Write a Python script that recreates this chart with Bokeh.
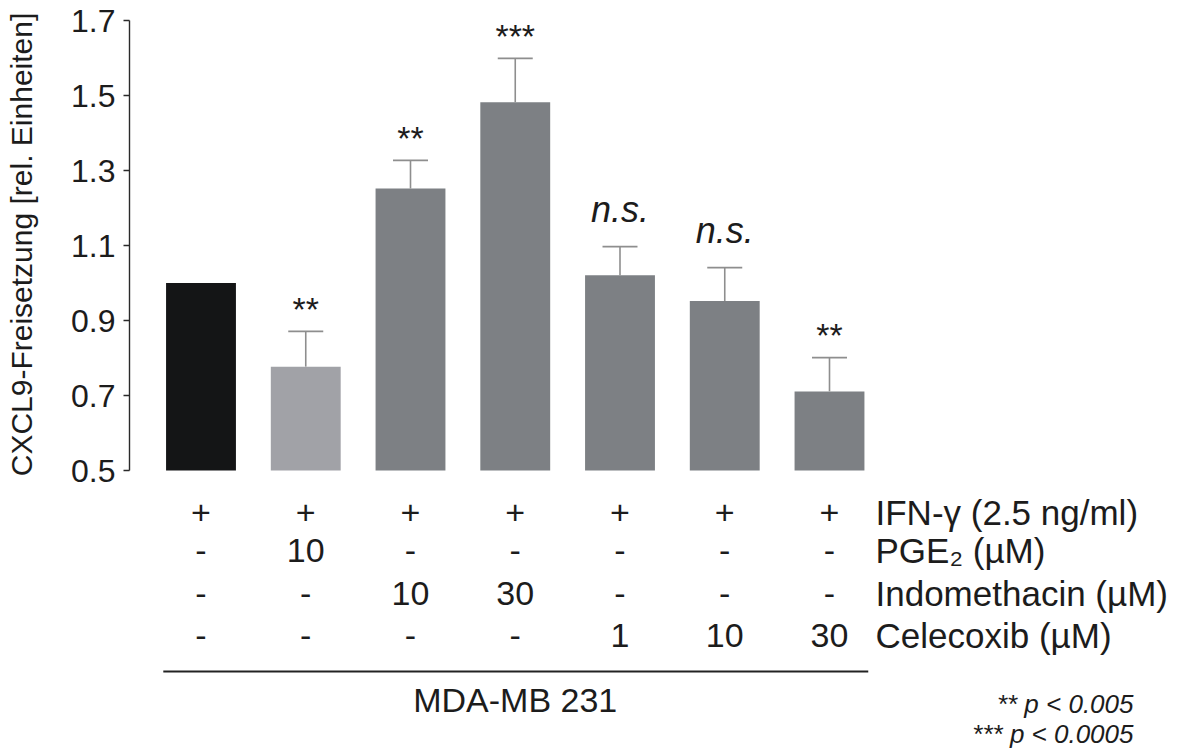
from bokeh.plotting import figure
from bokeh.layouts import column
from bokeh.models import Range1d, FixedTicker, ColumnDataSource
from bokeh.core.properties import value
from bokeh.embed import file_html
from bokeh.resources import INLINE

# ---------------- data ----------------
conditions = ["ctrl", "PGE2 10", "Indo 10", "Indo 30", "Cele 1", "Cele 10", "Cele 30"]
means = [1.000, 0.777, 1.252, 1.482, 1.021, 0.952, 0.711]
err_top = [1.000, 0.871, 1.327, 1.599, 1.097, 1.041, 0.801]
bar_colors = ["#141516", "#a1a2a7", "#7d8084", "#7d8084", "#7d8084", "#7d8084", "#7d8084"]
significance = ["", "**", "**", "***", "n.s.", "n.s.", "**"]

row_labels = ["IFN-γ (2.5 ng/ml)", "PGE₂ (µM)", "Indomethacin (µM)", "Celecoxib (µM)"]
ifn_row = ["+", "+", "+", "+", "+", "+", "+"]
pge_row = ["-", "10", "-", "-", "-", "-", "-"]
indo_row = ["-", "-", "10", "30", "-", "-", "-"]
cele_row = ["-", "-", "-", "-", "1", "10", "30"]
rows = [ifn_row, pge_row, indo_row, cele_row]

y_ticks = [0.5, 0.7, 0.9, 1.1, 1.3, 1.5, 1.7]
y_title = "CXCL9-Freisetzung [rel. Einheiten]"
group_label = "MDA-MB 231"
p_notes = ["** p < 0.005", "*** p < 0.0005"]

# ---------------- layout helpers ----------------
W, H = 1187, 749
TOP_H = 488                       # height of the chart part
FRAME_LEFT = 129
X0_PX, DX_PX = 200.5, 104.75      # centre of first bar, bar pitch
Y_BASE_PX, PX_PER_UNIT = 470, 375  # pixel row of 0.5, pixels per unit
BL = 0.37                          # baseline correction (em)


def px2x(px):
    return (px - X0_PX) / DX_PX


def py2y(py):
    return 0.5 + (Y_BASE_PX - py) / PX_PER_UNIT


FONT = value("Liberation Sans")
INK = "#1c1c1c"

p = figure(width=W, height=TOP_H, output_backend="svg", toolbar_location=None,
           x_range=Range1d(px2x(FRAME_LEFT), px2x(W)),
           y_range=Range1d(py2y(TOP_H), py2y(0)),
           x_axis_location=None, y_axis_location="left",
           min_border=0, min_border_left=FRAME_LEFT)
p.grid.visible = False
p.outline_line_color = None

idx = list(range(len(conditions)))

# bars
bars = ColumnDataSource(dict(x=idx, top=means, color=bar_colors))
p.vbar(x="x", top="top", bottom=0.5, width=0.667, fill_color="color",
       line_color=None, source=bars)

# error bars (upper only)
err_idx = [i for i in idx if err_top[i] > means[i]]
p.segment(x0=[idx[i] for i in err_idx], y0=[means[i] for i in err_idx],
          x1=[idx[i] for i in err_idx], y1=[err_top[i] for i in err_idx],
          line_color="#8e8e8e", line_width=1.6)
p.segment(x0=[idx[i] - 0.167 for i in err_idx], y0=[err_top[i] for i in err_idx],
          x1=[idx[i] + 0.167 for i in err_idx], y1=[err_top[i] for i in err_idx],
          line_color="#8e8e8e", line_width=1.6)

# significance marks
sig_x, sig_y, sig_t, sig_style, sig_size, sig_off = [], [], [], [], [], []
for i in idx:
    if significance[i]:
        ns = significance[i].startswith("n")
        size = 36 if ns else 34
        sig_x.append(i)
        sig_y.append(err_top[i])
        sig_t.append(significance[i])
        sig_style.append("italic" if ns else "normal")
        sig_size.append(f"{size}px")
        sig_off.append((-24 if ns else -10) - BL * size)
p.text(x="x", y="y", text="t", source=ColumnDataSource(dict(
    x=sig_x, y=sig_y, t=sig_t, st=sig_style, sz=sig_size, off=sig_off)),
    text_font=FONT, text_font_style="st", text_font_size="sz", y_offset="off",
    text_align="center", text_baseline="alphabetic", text_color=INK)

# y axis
ax = p.yaxis[0]
ax.bounds = (0.5, 1.7)
ax.ticker = FixedTicker(ticks=y_ticks, minor_ticks=[])
ax.major_tick_out = 6
ax.major_tick_in = 0
ax.minor_tick_line_color = None
ax.axis_line_color = "#2a2a2a"
ax.axis_line_width = 1.4
ax.major_tick_line_color = "#2a2a2a"
ax.major_tick_line_width = 1.4
ax.major_label_text_font = "Liberation Sans"
ax.major_label_text_font_size = "32px"
ax.major_label_text_color = INK
ax.major_label_standoff = 8
ax.axis_label = y_title
ax.axis_label_text_font = "Liberation Sans"
ax.axis_label_text_font_size = "30px"
ax.axis_label_text_font_style = "normal"
ax.axis_label_text_color = INK
ax.axis_label_standoff = 30

# ---------------- treatment table (second figure, y in pixel rows) ----------------
q = figure(width=W, height=H - TOP_H, output_backend="svg", toolbar_location=None,
           x_range=Range1d(px2x(FRAME_LEFT), px2x(W)), y_range=Range1d(H, TOP_H),
           x_axis_location=None, y_axis_location=None,
           min_border=0, min_border_left=FRAME_LEFT)
q.grid.visible = False
q.outline_line_color = None

row_base_px = [525, 563, 606, 648]
for r, vals in enumerate(rows):
    yb = row_base_px[r] - BL * 34
    q.text(x=idx, y=[yb] * len(idx), text=vals,
           text_font=FONT, text_font_size="34px", text_align="center",
           text_baseline="alphabetic", text_color=INK)
    q.text(x=[px2x(875)], y=[row_base_px[r] - BL * 35], text=[row_labels[r]],
           text_font=FONT, text_font_size="35px", text_align="left",
           text_baseline="alphabetic", text_color=INK)

# group line + label
q.segment(x0=[idx[0] - 0.36], y0=[671], x1=[idx[-1] + 0.37], y1=[671],
          line_color="#222222", line_width=2)
q.text(x=[(idx[0] + idx[-1]) / 2], y=[712 - BL * 34], text=[group_label],
       text_font=FONT, text_font_size="34px", text_align="center",
       text_baseline="alphabetic", text_color=INK)

# p-value notes
q.text(x=[px2x(1133)] * 2, y=[713 - BL * 26, 743 - BL * 26], text=p_notes,
       text_font=FONT, text_font_size="26px", text_font_style="italic",
       text_align="right", text_baseline="alphabetic", text_color=INK)

layout = column(p, q, spacing=0)
open("out.html", "w").write(file_html(layout, INLINE))
